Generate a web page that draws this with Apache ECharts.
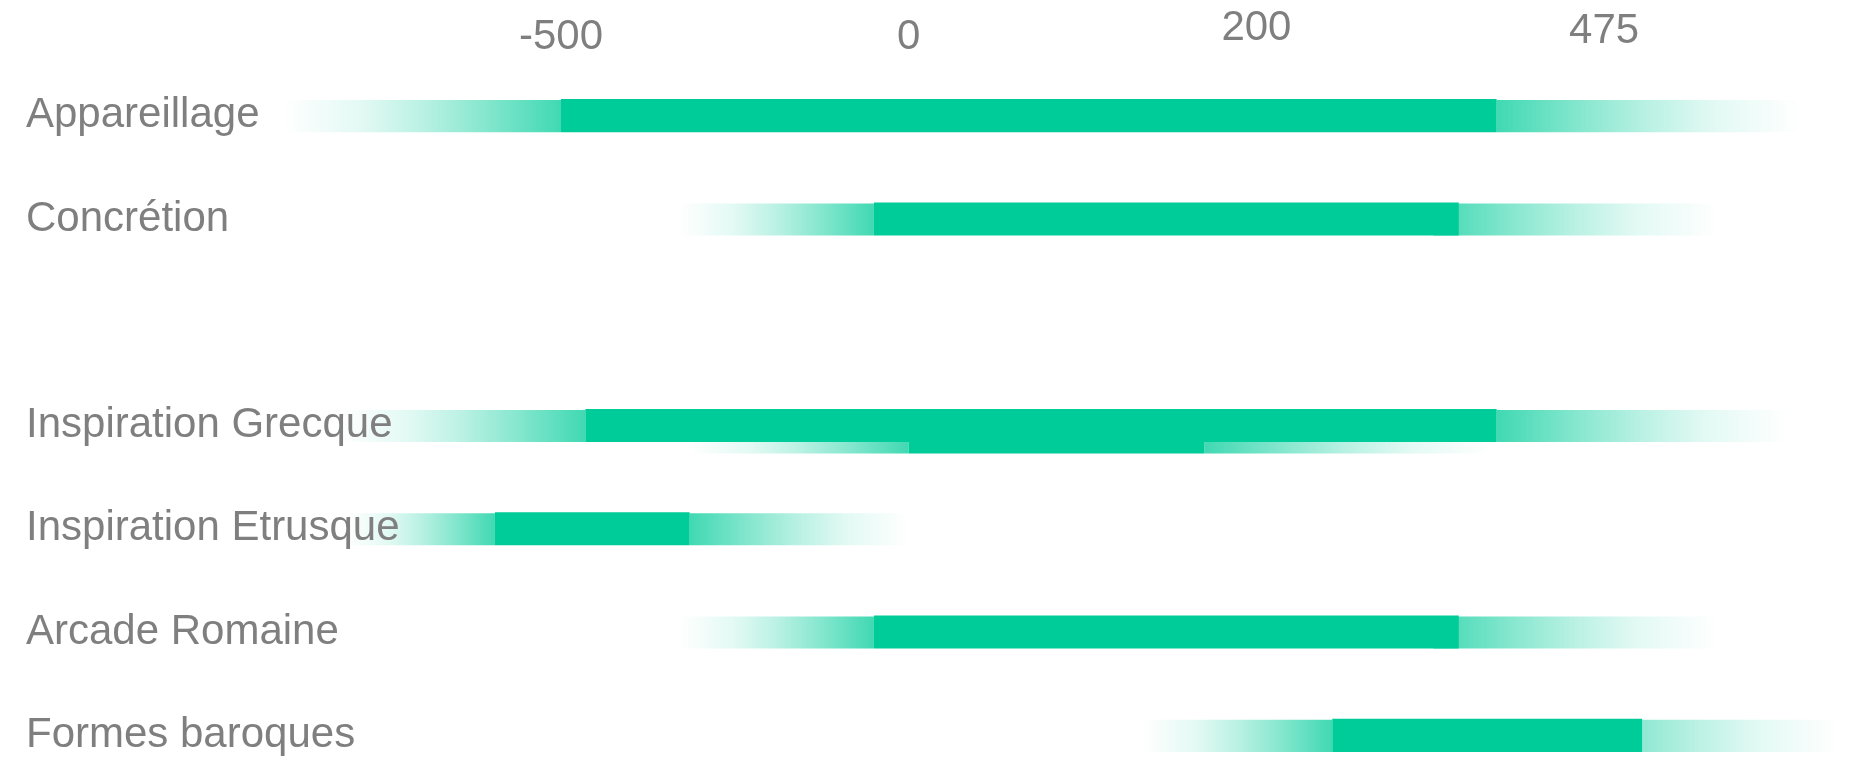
<!DOCTYPE html>
<html>
<head>
<meta charset="utf-8">
<title>Frise</title>
<script src="https://cdn.jsdelivr.net/npm/echarts@6/dist/echarts.min.js"></script>
<style>
  html, body { margin: 0; padding: 0; background: #fff; }
  #frise { width: 1856px; height: 777px; }
</style>
</head>
<body>
<div id="frise"></div>
<script>
// lignes (la 3e est vide dans l'original)
var categories = ["Appareillage", "Concrétion", "", "Inspiration Grecque", "Inspiration Etrusque", "Arcade Romaine", "Formes baroques"];
// repères de l'axe (années)
var tickYears = [-500, 0, 200, 475];

// période de chaque ligne : début du fondu, début, fin, départ du fondu de fin, fin du fondu
var fadeStart = [-900, -330, null, -820, -810, -330, 135];
var spanStart = [-500, -50, null, -465, -595, -50, 260];
var spanEnd = [390, 360, null, 390, -315, 360, 505];
var fadeOutFrom = [390, 340, null, 390, -315, 340, 435];
var fadeEnd = [630, 565, null, 620, 0, 565, 660];

// deuxième période superposée (Inspiration Grecque)
var laterRow = "Inspiration Grecque";
var laterSpan = [-315, 0, 170, 170, 385];

var GREEN = "#00cc99";
var FONT = "Liberation Sans, Arial, sans-serif";

// l'axe n'est pas linéaire : chaque repère occupe un intervalle égal
function toSlot(year) {
  var t = tickYears;
  var i = 0;
  if (year >= t[t.length - 1]) {
    i = t.length - 2;
  } else if (year > t[0]) {
    while (year > t[i + 1]) i++;
  }
  return i + (year - t[i]) / (t[i + 1] - t[i]);
}

function fade(toRight) {
  // fondu vers le blanc
  var stops = [
    { offset: 0, color: "rgba(0,204,153,0.75)" },
    { offset: 0.3, color: "rgba(0,204,153,0.45)" },
    { offset: 0.5, color: "rgba(0,204,153,0.27)" },
    { offset: 0.72, color: "rgba(0,204,153,0.11)" },
    { offset: 1, color: "rgba(0,204,153,0)" },
  ];
  return toRight
    ? new echarts.graphic.LinearGradient(0, 0, 1, 0, stops)
    : new echarts.graphic.LinearGradient(1, 0, 0, 0, stops);
}

function makeRender(shift) {
  return function (params, api) {
    var row = api.value(0);
    var band = api.size([0, 1])[1];
    var h = band * 0.32;
    var cy = api.coord([0, row])[1] + band * shift;
    var x = [];
    for (var k = 1; k <= 5; k++) {
      x.push(api.coord([api.value(k), row])[0]);
    }
    var y = cy - h / 2;
    return {
      type: "group",
      children: [
        { type: "rect", shape: { x: x[0], y: y + 1, width: x[1] - x[0], height: h - 1 }, style: { fill: fade(false) } },
        { type: "rect", shape: { x: x[1], y: y, width: x[2] - x[1], height: h }, style: { fill: GREEN } },
        { type: "rect", shape: { x: x[3], y: y + 1, width: x[4] - x[3], height: h - 1 }, style: { fill: fade(true) } },
      ],
    };
  };
}

var mainData = [];
categories.forEach(function (name, i) {
  if (spanStart[i] == null) return;
  mainData.push([i, toSlot(fadeStart[i]), toSlot(spanStart[i]), toSlot(spanEnd[i]), toSlot(fadeOutFrom[i]), toSlot(fadeEnd[i])]);
});
var laterData = [[categories.indexOf(laterRow)].concat(laterSpan.map(toSlot))];

// les repères ne sont pas tous à la même hauteur
var tickStyle = ["low", "low", "high", "mid"];

var myChart = echarts.init(document.getElementById("frise"));
myChart.setOption({
  animation: false,
  grid: {
    left: 0,
    right: 0,
    top: 64,
    bottom: -10,
    outerBoundsMode: "none",
  },
  xAxis: {
    type: "value",
    position: "top",
    min: -1.6135,
    max: 3.7244,
    axisLine: { show: false },
    axisTick: { show: false },
    splitLine: { show: false },
    axisLabel: {
      customValues: [0, 1, 2, 3],
      formatter: function (v) {
        var i = Math.round(v);
        return "{" + tickStyle[i] + "|" + tickYears[i] + "}";
      },
      color: "#7f7f7f",
      fontSize: 42,
      fontFamily: FONT,
      margin: 6,
      rich: {
        low: { fontSize: 42, fontFamily: FONT, color: "#7f7f7f" },
        mid: { fontSize: 42, fontFamily: FONT, color: "#7f7f7f", padding: [0, 0, 6, 0] },
        high: { fontSize: 42, fontFamily: FONT, color: "#7f7f7f", padding: [0, 0, 9, 0] },
      },
    },
  },
  yAxis: {
    type: "category",
    inverse: true,
    data: categories,
    z: 10,
    axisLine: { show: false },
    axisTick: { show: false },
    splitLine: { show: false },
    axisLabel: {
      inside: true,
      margin: 26,
      color: "#7f7f7f",
      fontSize: 42,
      fontFamily: FONT,
    },
  },
  series: [
    {
      name: "later",
      type: "custom",
      z: 1,
      renderItem: makeRender(0.11),
      encode: { x: [1, 2, 3, 4, 5], y: 0 },
      data: laterData,
    },
    {
      name: "main",
      type: "custom",
      z: 2,
      renderItem: makeRender(0),
      encode: { x: [1, 2, 3, 4, 5], y: 0 },
      data: mainData,
    },
  ],
});
</script>
</body>
</html>
